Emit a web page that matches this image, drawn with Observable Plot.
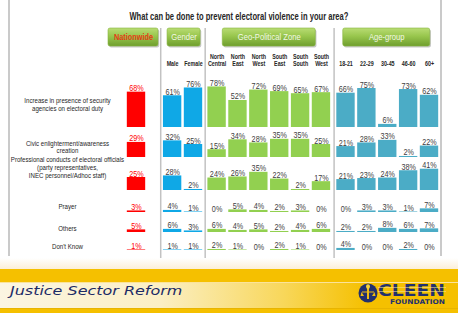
<!DOCTYPE html>
<html>
<head>
<meta charset="utf-8">
<script src="https://cdn.jsdelivr.net/npm/d3@7"></script>
<script src="https://cdn.jsdelivr.net/npm/@observablehq/plot@0.6"></script>
<style>
  html, body { margin: 0; padding: 0; background: #fff; }
  #slide { position: relative; width: 458px; height: 313px; overflow: hidden; background: #fff;
    font-family: "Liberation Sans", Arial, sans-serif; }
  .frame { position: absolute; top: 0; height: 256px; width: 1.5px; background: #cacaca; }
  #title { position: absolute; left: 0; top: 6px; width: 458px; height: 15px; text-align: center; }
  #title span { display: inline-block; font-weight: bold; font-size: 11px; line-height: 13px; color: #262626;
    white-space: nowrap; position: relative; left: 10px; }
  #chart { position: absolute; left: 0; top: 20px; }
  #footer { position: absolute; left: 0; top: 258px; width: 458px; height: 55px; }
  #footer .haze { position: absolute; left: 0; top: 0; width: 100%; height: 11px;
    background: linear-gradient(#ffffff, #fcefd8); }
  #footer .gold { position: absolute; left: 0; top: 11px; width: 100%; height: 44px; background: #f5c000; }
  #footer .band { position: absolute; left: 0; top: 24px; width: 100%; height: 25px;
    background: linear-gradient(to right, #fbf5e2 0%, #fbefc4 35%, #f8d75a 62%, #f5c000 80%);
    border-top: 1px solid #fbe39a; border-bottom: 1px solid #e8b400; }
  #footer .jsr { position: absolute; left: 10px; top: 27px; font-family: "DejaVu Sans", sans-serif;
    font-style: italic; font-size: 12px; line-height: 12px; color: #1d2b66; white-space: nowrap;
    transform: scaleX(1.33); transform-origin: left center; }
  #footer svg.logo { position: absolute; left: 358px; top: 23px; }
</style>
</head>
<body>
<div id="slide">
  <div class="frame" style="left:8px"></div>
  <div class="frame" style="left:440px"></div>
  <div id="title"><span>What can be done to prevent electoral violence in your area?</span></div>
  <div id="chart"></div>
  <div id="footer">
    <div class="haze"></div>
    <div class="gold"></div>
    <div class="band"></div>
    <div class="jsr">Justice Sector Reform</div>
    <svg class="logo" width="100" height="27" viewBox="0 0 100 27">
      <circle cx="10" cy="12" r="9.5" fill="#22306e"/>
      <line x1="4" y1="11" x2="16" y2="11" stroke="#f0bd12" stroke-width="1"/>
      <path d="M3.5 11 L2.5 15 L6 15 Z M16.5 11 L14 15 L17.5 15 Z" fill="#f0bd12"/>
      <rect x="9" y="7" width="2" height="11" fill="#f0bd12"/>
      <ellipse cx="10" cy="5.6" rx="2" ry="2.4" fill="#f7d23a"/>
      <text x="20" y="14.5" font-family="DejaVu Sans, sans-serif" font-weight="bold" font-size="15"
        fill="#22306e" textLength="67" lengthAdjust="spacingAndGlyphs">CLEEN</text>
      <line x1="20" y1="6.5" x2="88" y2="6.5" stroke="#f8df8a" stroke-width="0.6"/>
      <line x1="20" y1="10.5" x2="88" y2="10.5" stroke="#f8df8a" stroke-width="0.6"/>
      <text x="32" y="23" font-family="DejaVu Sans, sans-serif" font-weight="bold" font-size="6.5"
        fill="#22306e" textLength="55" lengthAdjust="spacingAndGlyphs">FOUNDATION</text>
    </svg>
  </div>
</div>
<script>
// Survey breakdown: share of respondents (%) per answer, by population segment.
const columns = ["Nationwide", "Male", "Female",
  "North Central", "North East", "North West", "South East", "South South", "South West",
  "18-21", "22-29", "30-45", "46-60", "60+"];
const columnLabels = ["", "Male", "Female",
  "North\nCentral", "North\nEast", "North\nWest", "South\nEast", "South\nSouth", "South\nWest",
  "18-21", "22-29", "30-45", "46-60", "60+"];
const columnGroup = ["Nationwide", "Gender", "Gender",
  "Geo-Political Zone", "Geo-Political Zone", "Geo-Political Zone",
  "Geo-Political Zone", "Geo-Political Zone", "Geo-Political Zone",
  "Age-group", "Age-group", "Age-group", "Age-group", "Age-group"];
const groups = ["Nationwide", "Gender", "Geo-Political Zone", "Age-group"];
const groupColors = ["#ff0000", "#0fa8e6", "#92d050", "#4bacc6"];

const answers = [
  "Increase in presence of security\nagencies on electoral duty",
  "Civic enlighterment/awareness\ncreation",
  "Professional conducts of electoral officials\n(party representatives,\nINEC personnel/Adhoc staff)",
  "Prayer",
  "Others",
  "Don't Know"
];
const security     = [68, 61, 76, 78, 52, 72, 69, 65, 67, 66, 75, 6, 73, 62];
const civic        = [29, 32, 25, 15, 34, 28, 35, 35, 25, 21, 28, 33, 2, 22];
const professional = [25, 28, 2, 24, 26, 35, 22, 2, 17, 21, 23, 24, 38, 41];
const prayer       = [3, 4, 1, 0, 5, 4, 2, 3, 0, 0, 3, 3, 1, 7];
const others       = [5, 6, 3, 6, 4, 5, 2, 4, 6, 2, 2, 8, 6, 7];
const dontKnow     = [1, 1, 1, 2, 1, 0, 2, 1, 0, 4, 0, 0, 2, 0];
const series = [security, civic, professional, prayer, others, dontKnow];

// ---- layout ----
const W = 458, H = 238;
const pxPerPoint = 0.52;                 // vertical size of one percentage point
const groupGap = [0, 0.73, 0.13, 0.175]; // extra space before each group, in column widths
const barHalf = 0.44;                    // half bar width, in column widths
const rowBaseline = [107, 137, 170, 192, 212, 230]; // px from top of plot
const rowLabelMid = [84, 126.5, 147, 186, 208, 226];
const buttonTop = 8, buttonBottom = 26, headerBottom = 45.5;
const buttonWidth = [50, 33, 93, 87];    // px
const buttonShift = [-3, 1, 0, -1];      // px
const labelCenterX = 67;                 // px, centre of answer labels
const condense = 0.85;                   // horizontal squeeze of the narrow slide typeface

const toUnits = py => (H - py) / pxPerPoint;

// column slot positions along x
let gapSum = 0, prevGroup = null;
const slot = columns.map((c, i) => {
  const g = groups.indexOf(columnGroup[i]);
  if (columnGroup[i] !== prevGroup) { gapSum += groupGap[g]; prevGroup = columnGroup[i]; }
  return i + gapSum;
});
const lastSlot = slot[slot.length - 1];
const xRange = [136, 429];
const pitch = (xRange[1] - xRange[0]) / lastSlot;

const cells = [];
series.forEach((vals, r) => vals.forEach((v, c) => cells.push({
  answer: answers[r], column: columns[c], group: columnGroup[c],
  value: v, slot: slot[c], base: toUnits(rowBaseline[r])
})));

const colInfo = columns.map((c, i) => ({column: c, label: columnLabels[i], slot: slot[i]}));

const groupInfo = groups.map((g, gi) => {
  const s = slot.filter((_, i) => columnGroup[i] === g);
  const mid = (s[0] + s[s.length - 1]) / 2 + buttonShift[gi] / pitch;
  return {group: g, mid, half: buttonWidth[gi] / 2 / pitch, first: s[0]};
});
const separators = groupInfo.slice(1).map(d => d.first - 0.57);

const rowInfo = answers.map((a, r) => ({answer: a, y: toUnits(rowLabelMid[r])}));

const svg = Plot.plot({
  width: W, height: H,
  margin: 0,
  style: {fontFamily: '"Liberation Sans", Arial, sans-serif', background: "transparent", overflow: "visible"},
  x: {domain: [0, lastSlot], range: xRange, axis: null},
  y: {domain: [0, H / pxPerPoint], range: [H, 0], axis: null},
  color: {domain: groups, range: groupColors},
  marks: [
    // group separators
    Plot.ruleX(separators, {x: d => d, y1: 0, y2: toUnits(buttonTop), stroke: "#c2c2c2", strokeWidth: 1.5}),
    // group header buttons
    Plot.rect(groupInfo, {x1: d => d.mid - d.half, x2: d => d.mid + d.half,
      y1: toUnits(buttonBottom), y2: toUnits(buttonTop), fill: "#000", fillOpacity: 0.22, rx: 2, dx: 1.2, dy: 1.5}),
    Plot.rect(groupInfo, {x1: d => d.mid - d.half, x2: d => d.mid + d.half,
      y1: toUnits(buttonBottom), y2: toUnits(buttonTop), fill: "url(#btnGrad)", stroke: "#86b63e", strokeWidth: 0.6, rx: 2}),
    Plot.text(groupInfo, {filter: d => d.group === "Nationwide", x: "mid", y: toUnits((buttonTop + buttonBottom) / 2),
      text: "group", fill: "#e63b17", fontWeight: "bold", fontSize: 8.6}),
    Plot.text(groupInfo, {filter: d => d.group !== "Nationwide", x: "mid", y: toUnits((buttonTop + buttonBottom) / 2),
      text: "group", fill: "#f3f8e6", fontSize: 9}),
    // column headers
    Plot.text(colInfo, {x: "slot", y: toUnits(headerBottom), text: "label", lineAnchor: "bottom",
      fontSize: 6.3, fontWeight: "bold", fill: "#262626", lineHeight: 1.15}),
    // answer labels
    Plot.text(rowInfo, {y: "y", text: "answer", frameAnchor: "left", dx: labelCenterX, textAnchor: "middle",
      fontSize: 7.2, fill: "#262626", lineHeight: 1.1}),
    // bars
    Plot.rect(cells, {x1: d => d.slot - barHalf, x2: d => d.slot + barHalf,
      y1: "base", y2: d => d.base + d.value, fill: "group"}),
    // value labels
    Plot.text(cells, {filter: d => d.group === "Nationwide", x: "slot", y: d => d.base + d.value,
      text: d => `${d.value}%`, lineAnchor: "bottom", dy: -1, fontSize: 8.5, fill: "#ff0000"}),
    Plot.text(cells, {filter: d => d.group !== "Nationwide", x: "slot", y: d => d.base + d.value,
      text: d => `${d.value}%`, lineAnchor: "bottom", dy: -1, fontSize: 8.5, fill: "#404040"})
  ]
});

// narrow the typeface horizontally around each text's anchor point
d3.select(svg).selectAll("text").each(function() {
  const t = d3.select(this);
  const tr = t.attr("transform") || "";
  t.attr("transform", `${tr} scale(${condense},1)`);
});

// vertical gradient for the header buttons
const defs = d3.select(svg).insert("defs", ":first-child");
const grad = defs.append("linearGradient").attr("id", "btnGrad")
  .attr("x1", 0).attr("y1", 0).attr("x2", 0).attr("y2", 1);
grad.append("stop").attr("offset", "0%").attr("stop-color", "#b9dc74");
grad.append("stop").attr("offset", "45%").attr("stop-color", "#98c64d");
grad.append("stop").attr("offset", "100%").attr("stop-color", "#6f9e2e");

document.getElementById("chart").appendChild(svg);

// squeeze the heading to the slide's narrow title width
const titleSpan = document.querySelector("#title span");
const titleScale = 219 / titleSpan.getBoundingClientRect().width;
titleSpan.style.transform = `scaleX(${titleScale})`;
</script>
</body>
</html>
